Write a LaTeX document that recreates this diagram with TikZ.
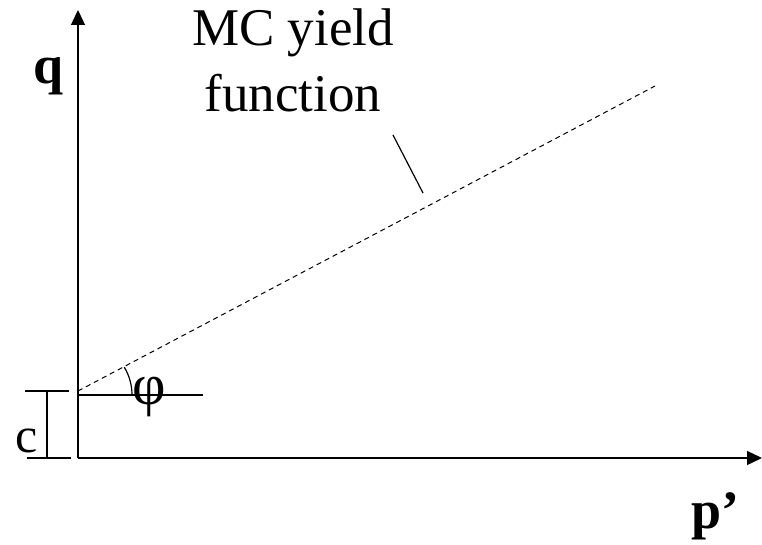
\documentclass[tikz,border=0pt]{standalone}
\usepackage{fontspec}
\setmainfont{Liberation Serif}
\usetikzlibrary{arrows.meta}

\begin{document}
\begin{tikzpicture}[x=1pt,y=-1pt,
    axis/.style={line width=1.3pt,-{Triangle[length=15pt,width=14pt]}},
    thin line/.style={line width=1.2pt},
    axislabel/.style={font=\fontsize{54}{60}\selectfont\bfseries,inner sep=0pt},
    bigtext/.style={font=\fontsize{53}{66}\selectfont,align=center,inner sep=0pt}]
  \useasboundingbox (0,0) rectangle (762,545);

  % axes
  \coordinate (O) at (78,458);
  \coordinate (ytip) at (78,10);
  \coordinate (xtip) at (762,458);
  \draw[axis] (O) -- (ytip);
  \draw[axis] (O) -- (xtip);

  % yield line
  \coordinate (c0) at (78,391);
  \coordinate (fend) at (655,86);
  \draw[line width=1pt,dash pattern=on 5pt off 4pt] (c0) -- (fend);

  % angle
  \coordinate (h0) at (78,395);
  \coordinate (hend) at (203,395);
  \coordinate (arcstart) at (132,395);
  \draw[thin line] (h0) -- (hend);
  \draw[thin line] (arcstart) arc[start angle=0,end angle=-31,radius=54];
  \node[font=\fontsize{58}{64}\selectfont,inner sep=0pt] (phi) at (149,397) {φ};

  % cohesion
  \coordinate (ctop l) at (25,391);
  \coordinate (ctop r) at (69,391);
  \coordinate (cbot l) at (27,458);
  \coordinate (cbot r) at (71,458);
  \coordinate (cmid t) at (47,391);
  \coordinate (cmid b) at (47,458);
  \draw[thin line] (ctop l) -- (ctop r);
  \draw[thin line] (cbot l) -- (cbot r);
  \draw[thin line] (cmid t) -- (cmid b);
  \node[font=\fontsize{50}{56}\selectfont,inner sep=0pt,anchor=base] (clabel) at (27,452) {c};

  % labels
  \node[axislabel,anchor=base] (qlabel) at (49,84) {q};
  \node[axislabel,anchor=base] (plabel) at (715,528) {p’};
  \node[bigtext,anchor=base] (mc) at (293,112) {MC yield\\function};

  \coordinate (lead0) at (393,135);
  \coordinate (lead1) at (423,193);
  \draw[thin line] (lead0) -- (lead1);
\end{tikzpicture}
\end{document}
